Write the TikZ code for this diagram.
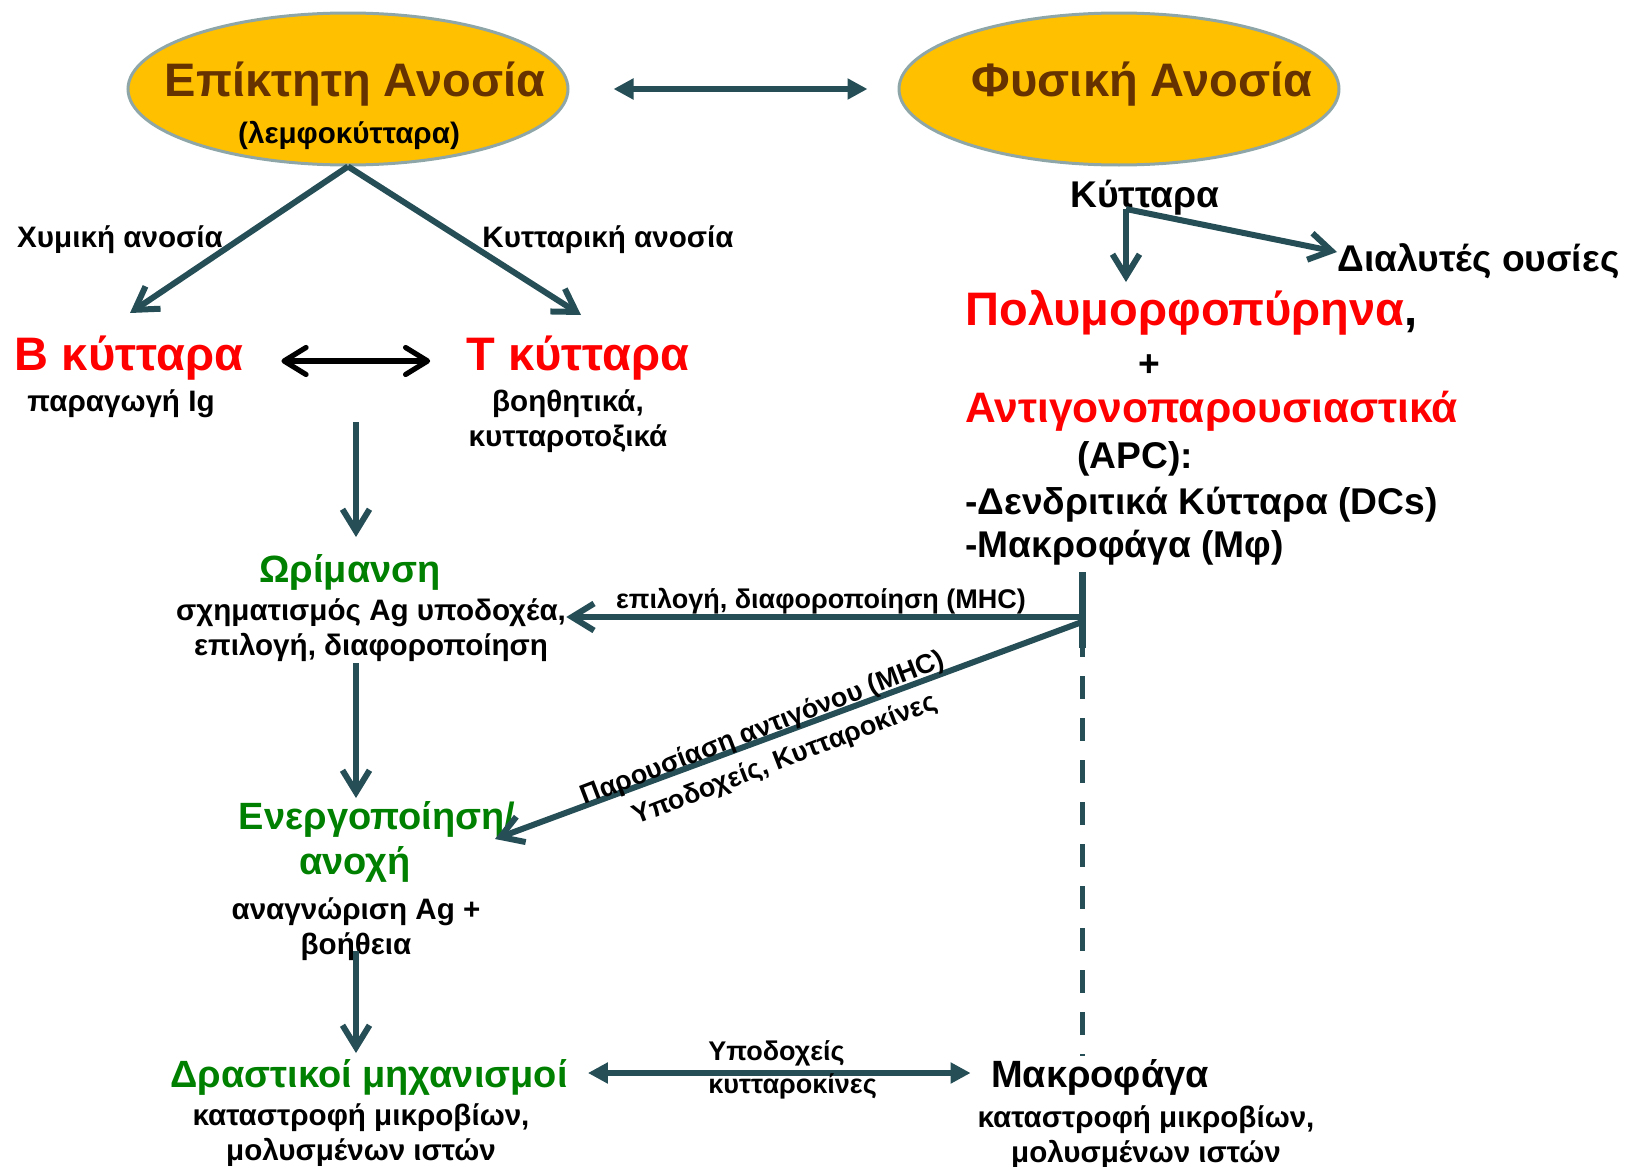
\documentclass[tikz,border=0pt]{standalone}
\usepackage{fontspec}
\setmainfont{Liberation Sans}
\usepackage{xcolor}
\usetikzlibrary{arrows.meta,shapes.geometric}
\definecolor{gold}{HTML}{FFC000}
\definecolor{rim}{HTML}{8EA6A8}
\definecolor{brn}{HTML}{663300}
\definecolor{slate}{HTML}{254E56}
\definecolor{grn}{HTML}{008000}

\begin{document}
\begin{tikzpicture}[x=0.5pt,y=-0.5pt,
  oval/.style={ellipse, draw=rim, line width=1.5pt, fill=gold,
               minimum width=220pt, minimum height=76pt},
  txt/.style={inner sep=0pt, yshift=-1.5pt},
  ttl/.style={txt, font=\fontsize{23.5}{28}\selectfont\bfseries, text=brn},
  big/.style={txt, font=\fontsize{23.5}{28}\selectfont\bfseries},
  hd/.style={txt, font=\fontsize{19}{22.5}\selectfont\bfseries, text=grn},
  mid/.style={txt, font=\fontsize{18.6}{21}\selectfont\bfseries},
  sm/.style={txt, font=\fontsize{14.8}{17.5}\selectfont\bfseries, align=center},
  lab/.style={txt, font=\fontsize{13.5}{16.5}\selectfont\bfseries, align=center},
  ar/.style={-{Straight Barb[length=11pt,width=13.5pt]}, line width=3pt, draw=slate},
  dar/.style={{Triangle[length=10pt,width=10pt]}-{Triangle[length=10pt,width=10pt]},
              line width=3.3pt, draw=slate},
  bar/.style={{Straight Barb[length=11pt,width=13.5pt,round]}-{Straight Barb[length=11pt,width=13.5pt,round]},
              line width=2.6pt}]
\useasboundingbox (0,0) rectangle (1635,1167);

\node[oval] (acq) at (348,89) {};
\node[oval] (inn) at (1119,89) {};
\node[ttl] (acqT) at (355,81) {Επίκτητη Ανοσία};
\node[sm] (acqS) at (349,132) {(λεμφοκύτταρα)};
\node[ttl] (innT) at (1142,81) {Φυσική Ανοσία};
\draw[dar] (acq.east) -- (inn.west) [shorten <=22pt, shorten >=15pt];

\node[sm] (chem) at (120,237) {Χυμική ανοσία};
\node[sm] (cell) at (608,237) {Κυτταρική ανοσία};
\coordinate (bIn) at (130,313);
\coordinate (tIn) at (581,315);
\draw[ar] (acq.south) -- (bIn);
\draw[ar] (acq.south) -- (tIn);

\node[big, text=red] (bk) at (129,355) {Β κύτταρα};
\node[sm] (bkD) at (121,401) {παραγωγή Ig};
\node[big, text=red] (tk) at (578,355) {Τ κύτταρα};
\node[sm] (tkD) at (568,418) {βοηθητικά,\\κυτταροτοξικά};
\draw[bar] ([xshift=19pt,yshift=-1.5pt]bk.east) -- ([xshift=-18pt,yshift=-1.5pt]tk.west);

\node[hd] (orim) at (350,569) {Ωρίμανση};
\node[sm] (orimD) at (371,627) {σχηματισμός Ag υποδοχέα,\\επιλογή, διαφοροποίηση};
\node[hd] (act1) at (377,816) {Ενεργοποίηση/};
\node[hd] (act2) at (355,861) {ανοχή};
\node[sm] (actD) at (356,926) {αναγνώριση Ag +\\βοήθεια};
\node[hd] (eff) at (369,1074) {Δραστικοί μηχανισμοί};
\node[sm] (effD) at (361,1132) {καταστροφή μικροβίων,\\μολυσμένων ιστών};
\coordinate (btO) at (356,422);
\coordinate (orimIn) at (356,537);
\coordinate (orimO) at (356,663);
\coordinate (actIn) at (356,798);
\coordinate (actO) at (356,951);
\coordinate (effIn) at (356,1053);
\draw[ar] (btO) -- (orimIn);
\draw[ar] (orimO) -- (actIn);
\draw[ar] (actO) -- (effIn);

\node[mid] (kyt) at (1145,195) {Κύτταρα};
\node[mid, anchor=west] (dial) at (1337,258) {Διαλυτές ουσίες};
\coordinate (kytO) at (1126,209);
\coordinate (pmnIn) at (1126,282);
\draw[ar] (kytO) -- (pmnIn);
\draw[ar] (kytO) -- ([yshift=4.5pt]dial.west);

\node[big, anchor=west] (pmn) at (965,310) {\textcolor{red}{Πολυμορφοπύρηνα},};
\node[mid] (plus) at (1149,363) {+};
\node[big, text=red, anchor=west, font=\fontsize{21.3}{25}\selectfont\bfseries] (antig) at (965,408) {Αντιγονοπαρουσιαστικά};
\node[mid, anchor=west] (apc) at (1077,456) {(APC):};
\node[mid, anchor=west] (dcs) at (965,502) {-Δενδριτικά Κύτταρα (DCs)};
\node[mid, anchor=west] (mf) at (965,545) {-Μακροφάγα (Μφ)};

\node[hd, text=black] (mac) at (1100,1074) {Μακροφάγα};
\node[sm] (macD) at (1146,1134) {καταστροφή μικροβίων,\\μολυσμένων ιστών};

\coordinate (vTop) at (1082,572);
\coordinate (vMid) at (1082,648);
\coordinate (vBot) at (1082,1056);
\coordinate (hO) at (1082,617);
\coordinate (dO) at (1082,622);
\coordinate (dIn) at (495,839);
\draw[slate, line width=3.5pt] (vTop) -- (vMid);
\draw[slate, line width=2.5pt, dash pattern=on 11.5pt off 9.5pt, dash phase=7pt] (vMid) -- (vBot);
\draw[ar] (hO) -- (hO -| orimD.east);
\node[lab] (mhc) at (821,598) {επιλογή, διαφοροποίηση (MHC)};
\draw[ar] (dO) -- (dIn);
\node[lab, rotate=21] (pres) at (763,726) {Παρουσίαση αντιγόνου (MHC)};
\node[lab, rotate=21] (recc) at (785,757) {Υποδοχείς, Κυτταροκίνες};

\draw[dar] ([xshift=10pt,yshift=2pt]eff.east) -- ([xshift=-10pt,yshift=2pt]mac.west);
\node[lab, align=left, anchor=west] (rec) at (708,1067) {Υποδοχείς\\κυτταροκίνες};
\end{tikzpicture}
\end{document}
